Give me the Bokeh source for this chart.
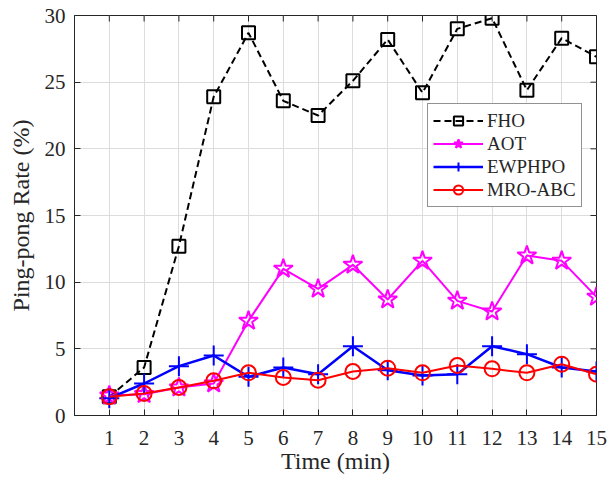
from bokeh.plotting import figure
from bokeh.models import Range1d, Legend, LegendItem, FixedTicker
from bokeh.embed import file_html
from bokeh.resources import INLINE

time_min = list(range(1, 16))
fho = [1.4, 3.6, 12.7, 23.9, 28.7, 23.6, 22.5, 25.1, 28.2, 24.2, 29.0, 29.8, 24.4, 28.3, 26.9]
aot = [1.5, 1.6, 2.1, 2.4, 7.1, 11.0, 9.5, 11.3, 8.7, 11.6, 8.6, 7.8, 12.0, 11.6, 8.9]
ewphpo = [1.3, 2.4, 3.7, 4.5, 2.9, 3.6, 3.1, 5.2, 3.4, 3.0, 3.1, 5.2, 4.6, 3.6, 3.3]
mro_abc = [1.4, 1.65, 2.1, 2.6, 3.2, 2.85, 2.65, 3.3, 3.55, 3.2, 3.75, 3.5, 3.2, 3.85, 3.1]
x_ticks = list(range(1, 16))
y_ticks = [0, 5, 10, 15, 20, 25, 30]

FONT = "Liberation Serif"
TXT = "#262626"

p = figure(width=609, height=485, output_backend="svg", toolbar_location=None,
           x_range=Range1d(0, 15), y_range=Range1d(0, 30),
           min_border_left=74, min_border_right=13, min_border_top=15, min_border_bottom=70)
p.outline_line_color = TXT
p.outline_line_width = 1

for ax in (p.xaxis[0], p.yaxis[0]):
    ax.major_label_text_font = FONT
    ax.major_label_text_font_size = "21px"
    ax.major_label_text_color = TXT
    ax.axis_label_text_font = FONT
    ax.axis_label_text_font_size = "24px"
    ax.axis_label_text_font_style = "normal"
    ax.axis_label_text_color = TXT
    ax.major_tick_in = 6
    ax.major_tick_out = 0
    ax.minor_tick_in = 0
    ax.minor_tick_out = 0
    ax.axis_line_color = TXT
    ax.major_tick_line_color = TXT

p.xaxis.ticker = FixedTicker(ticks=x_ticks)
p.yaxis.ticker = FixedTicker(ticks=y_ticks)
p.xaxis.axis_label = "Time (min)"
p.yaxis.axis_label = "Ping-pong Rate (%)"
p.xaxis.major_label_standoff = 15
p.yaxis.major_label_standoff = 9
p.xaxis.axis_label_standoff = 0
p.yaxis.axis_label_standoff = 8

p.xgrid.ticker = FixedTicker(ticks=x_ticks)
p.ygrid.ticker = FixedTicker(ticks=y_ticks)
p.grid.grid_line_color = "#dcdcdc"
p.grid.grid_line_width = 1

# inward box ticks on the top and right edges (half of each dash is clipped by the frame)
p.scatter(x_ticks, [y_ticks[-1]] * len(x_ticks), marker="dash", angle=1.5708, size=12,
          line_color=TXT, line_width=1)
p.scatter([x_ticks[-1]] * len(y_ticks), y_ticks, marker="dash", size=12,
          line_color=TXT, line_width=1)

l1 = p.line(time_min, fho, line_color="black", line_width=2, line_dash="7 4")
m1 = p.scatter(time_min, fho, marker="square", size=13, line_color="black", line_width=2, fill_color=None)
l2 = p.line(time_min, aot, line_color="#ff00ff", line_width=2)
m2 = p.scatter(time_min, aot, marker="star", size=20, line_color="#ff00ff", line_width=2, fill_color=None)
l3 = p.line(time_min, ewphpo, line_color="#0000ff", line_width=2.5)
m3 = p.scatter(time_min, ewphpo, marker="cross", size=20, line_color="#0000ff", line_width=2)
l4 = p.line(time_min, mro_abc, line_color="#ff0000", line_width=2)
m4 = p.scatter(time_min, mro_abc, marker="circle", size=15, line_color="#ff0000", line_width=2, fill_color=None)

legend = Legend(items=[
    LegendItem(label="FHO", renderers=[l1, m1]),
    LegendItem(label="AOT", renderers=[l2, m2]),
    LegendItem(label="EWPHPO", renderers=[l3, m3]),
    LegendItem(label="MRO-ABC", renderers=[l4, m4]),
], location=(353, 208))
legend.label_text_font = FONT
legend.label_text_font_size = "19px"
legend.label_text_color = TXT
legend.border_line_color = TXT
legend.border_line_width = 1
legend.glyph_width = 50
legend.glyph_height = 23
legend.label_height = 23
legend.spacing = 0
legend.padding = 5
legend.margin = 0
legend.label_standoff = 4
legend.background_fill_color = "white"
legend.background_fill_alpha = 1
p.add_layout(legend, "center")

open("out.html", "w").write(file_html(p, INLINE))
